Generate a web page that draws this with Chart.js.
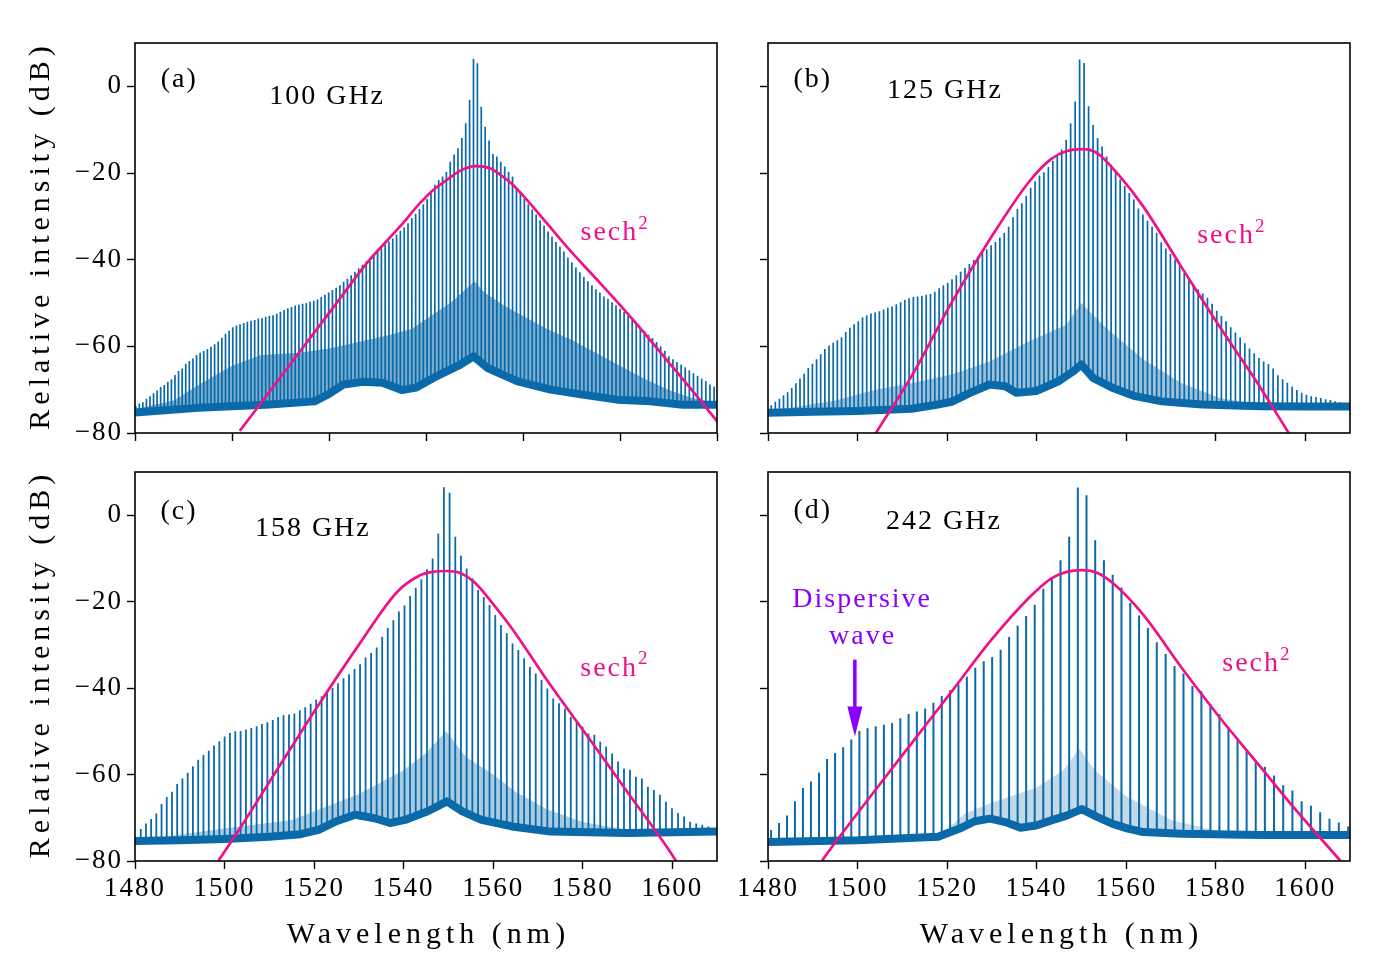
<!DOCTYPE html>
<html><head><meta charset="utf-8">
<script src="https://cdn.jsdelivr.net/npm/chart.js@4.4.1/dist/chart.umd.min.js"></script>
<style>
html,body{margin:0;padding:0;background:#fff;}
#wrap{position:relative;width:1383px;height:972px;overflow:hidden;background:#fff;}
canvas{position:absolute;}
</style></head>
<body><div id="wrap">
<canvas id="pa"></canvas><canvas id="pb"></canvas><canvas id="pc"></canvas><canvas id="pd"></canvas>
</div>
<script>
// ---------------- data ----------------
const C_NM_THZ = 299792.458;
const xTicksA = [1480, 1500, 1520, 1540, 1560, 1580, 1600];
const xTicksBCD = [1480, 1500, 1520, 1540, 1560, 1580, 1600];
const yTicks = [-80, -60, -40, -20, 0];
const xRangeA = [1480, 1600];
const xRangeBCD = [1480, 1610];
const yRange = [-80, 10];

// (a) 100 GHz comb: first line wavelength, spacing, line peaks (dB)
const combA_firstNm = 1480.16, combA_spacingGHz = 100;
const combA_peaksDb = [
 -73.8,-73.2,-72.9,-72.1,-71.5,-70.8,-70.2,-69.4,-68.9,-68.2,
 -67.6,-66.6,-65.7,-65.1,-64.0,-63.4,-62.8,-62.0,-61.5,-61.1,
 -60.6,-60.1,-59.5,-58.9,-58.0,-57.1,-56.4,-55.6,-55.2,-54.9,
 -54.6,-54.3,-54.1,-53.9,-53.6,-53.5,-53.2,-53.0,-52.8,-52.5,
 -52.0,-51.6,-51.2,-50.9,-50.6,-50.4,-50.2,-50.0,-49.7,-49.5,
 -49.2,-48.6,-48.1,-47.6,-47.0,-46.5,-45.9,-45.1,-44.4,-43.6,
 -42.8,-42.0,-41.2,-40.4,-39.6,-38.9,-38.2,-37.4,-36.5,-35.8,
 -35.1,-34.2,-33.3,-32.5,-31.6,-30.4,-29.4,-28.3,-27.2,-26.0,
 -24.5,-22.7,-21.6,-20.8,-19.7,-17.4,-15.8,-14.3,-11.9,-8.5,-3.1,
 6.3,5.3,
 -4.7,-9.3,-12.5,-15.6,-16.2,-17.4,-18.5,-19.7,-20.8,
 -23.5,-24.8,-26.0,-27.2,-28.4,-29.6,-30.9,-32.1,-33.5,-34.7,
 -35.9,-37.0,-38.1,-39.5,-40.6,-41.8,-42.9,-44.0,-45.0,-45.9,
 -46.8,-47.6,-48.5,-49.0,-49.8,-50.5,-51.3,-52.1,-53.0,-53.8,
 -54.8,-55.6,-56.4,-57.3,-58.1,-59.0,-60.0,-61.0,-62.3,-63.0,
 -63.6,-64.2,-64.8,-65.5,-66.2,-66.8,-67.5,-68.0,-68.8,-69.3];
const floorA_nm = [1480,1493,1507,1517,1520,1523,1527,1531,1535,1538,1541.5,1547,1549.8,1552.7,1558.9,1565.7,1572.6,1579.4,1586.3,1593,1600];
const floorA_db = [-75.3,-74.2,-73.5,-72.7,-71,-68.8,-68.2,-68.4,-70.1,-69.5,-67.3,-64.3,-62.3,-65,-68.1,-70,-71.2,-72.3,-72.7,-73.5,-73.5];
const ghostA_nm = [1480,1488,1493,1500,1506,1514,1520,1526,1532,1537,1541,1545,1548,1550,1552,1556,1560,1565,1570,1575,1580,1585,1590,1595,1600];
const ghostA_db = [-74.5,-72.5,-69,-64.5,-62,-61.5,-60.5,-59,-57.5,-56,-53,-50,-47,-45,-47.5,-50.5,-53,-56,-58.5,-61.5,-64.5,-67.5,-70,-72,-73];
const sechA_nm = [1501.6,1507.2,1514,1520.9,1527.8,1534.6,1538.8,1541.5,1544.3,1547,1550.1,1553.2,1555.3,1557.9,1560.8,1563.5,1569,1575.9,1582.7,1589.6,1596.5,1600.5];
const sechA_db = [-79.5,-71.3,-61.2,-51,-40.8,-32.4,-26.9,-23.9,-21.6,-19.5,-18.4,-18.9,-20.4,-22.7,-26.2,-29.7,-37,-45.4,-53.9,-63.1,-72.4,-78];

// (b) 125 GHz
const combB_firstNm = 1480.72, combB_spacingGHz = 125;
const combB_peaksDb = [
 -73.6,-72.8,-72.1,-71.3,-70.6,-69.6,-68.5,-67.4,-66.3,-65.0,
 -64.0,-63.0,-61.8,-60.6,-59.8,-59.2,-58.6,-57.9,-56.7,-55.7,
 -54.9,-54.2,-53.3,-52.8,-52.4,-52.2,-51.9,-51.5,-51.1,-50.8,
 -50.3,-49.8,-49.3,-48.9,-48.6,-48.5,-48.3,-48.1,-47.9,-47.4,
 -46.6,-45.9,-45.4,-44.5,-43.6,-42.8,-41.9,-41.0,-40.0,-39.3,
 -38.3,-37.6,-36.7,-35.9,-34.9,-33.8,-32.4,-30.2,-28.3,-27.0,
 -25.3,-23.4,-21.9,-20.6,-19.8,-18.6,-17.2,-15.9,-14.6,-12.3,
 -8.5,-3.5,6.2,5.4,-4.6,-8.9,-11.9,-13.9,-16.2,-18.1,
 -19.9,-21.5,-23.0,-24.6,-26.1,-28.2,-29.6,-31.0,-32.4,-33.8,
 -36.0,-37.4,-38.7,-40.0,-41.4,-42.9,-44.3,-45.7,-46.9,-47.8,
 -48.8,-50.2,-51.8,-53.0,-54.2,-55.6,-56.8,-58.0,-59.3,-60.5,
 -61.6,-62.7,-63.5,-64.1,-65.1,-66.7,-67.6,-68.4,-69.3,-70.1,
 -70.7,-71.2,-71.5,-71.7,-71.9,-72.2,-72.4,-72.7,-72.9,-73.2,-73.4];
const floorB_nm = [1480,1490,1500,1512,1517,1521,1525,1529.5,1533,1535.5,1540,1545,1548.3,1550,1552.6,1557,1562,1568,1577,1590,1600,1610];
const floorB_db = [-75.3,-75.1,-74.9,-74.4,-73.6,-72.8,-70.8,-68.8,-69.2,-70.7,-70.3,-68,-65.7,-64.2,-67.3,-69.6,-71.5,-72.7,-73.4,-73.8,-73.9,-73.9];
const ghostB_nm = [1480,1495,1504,1512,1521,1529.5,1538,1546.6,1550,1555.2,1563.8,1572.4,1581,1590,1610];
const ghostB_db = [-75,-72.5,-70,-68.5,-66.5,-63.5,-59,-55,-50,-55.5,-63,-68.5,-72,-73.5,-74];
const sechB_nm = [1504.1,1512.4,1520.9,1529.5,1538.1,1543.2,1546.6,1550.2,1553.5,1558.6,1563.8,1572.3,1580.9,1589.4,1596.3];
const sechB_db = [-80,-66.3,-50.1,-35.4,-22.3,-16.8,-15,-14.5,-15.4,-20.8,-27.7,-41.6,-55.5,-68.6,-80];

// (c) 158 GHz
const combC_firstNm = 1480.13, combC_spacingGHz = 158;
const combC_peaksDb = [
 -75.0,-72.6,-71.3,-70.3,-69.0,-66.8,-65.2,-64.0,-62.2,-60.9,
 -59.6,-58.1,-56.6,-55.5,-54.5,-53.3,-52.3,-51.2,-50.4,-50.0,
 -49.9,-49.6,-49.2,-48.8,-48.3,-47.9,-47.4,-46.7,-46.3,-46.1,
 -45.9,-45.1,-44.4,-43.6,-42.7,-41.9,-40.9,-40.0,-38.9,-37.7,
 -36.8,-35.6,-34.5,-32.9,-31.9,-30.6,-28.1,-26.1,-24.3,-22.3,
 -20.9,-18.7,-16.8,-14.8,-12.5,-10.0,-4.2,
 6.5,
 5.2,-5.0,-9.4,-12.3,-14.6,-17.3,-18.9,-20.8,-23.1,-25.4,
 -27.3,-29.7,-31.2,-33.1,-35.1,-36.6,-38.1,-40.1,-42.4,-43.5,
 -44.7,-46.6,-47.8,-48.9,-50.5,-50.8,-52.4,-53.5,-55.1,-57.0,
 -58.6,-58.9,-60.5,-60.9,-62.8,-63.6,-64.7,-66.3,-67.8,-68.9,
 -69.7,-70.9,-71.3,-71.6,-72.0,-72.4];
const floorC_nm = [1480,1490,1500,1510,1517,1521,1525,1529.2,1533.5,1537,1540.3,1545.4,1549.7,1553.1,1557.4,1564.2,1572.8,1590,1610];
const floorC_db = [-75.4,-75.2,-74.9,-74.4,-73.8,-72.8,-70.8,-69.3,-70.1,-71.2,-70.5,-68.5,-66.2,-68.5,-70.5,-72,-73.2,-73.5,-73.2];
const ghostC_nm = [1480,1500,1515,1525,1530,1540,1545,1549.5,1554,1560,1565,1572,1580,1590,1610];
const ghostC_db = [-75.3,-72.5,-70.5,-66.5,-64.5,-59,-55,-50,-56,-60,-64,-68,-71,-72.8,-73];
const sechC_nm = [1498.6,1504.4,1512.9,1521.5,1530,1538.6,1543.7,1546.5,1549.7,1552.5,1555.7,1560.8,1564.2,1572.8,1581.4,1589.9,1598.5,1600.9];
const sechC_db = [-80,-70.9,-57,-43.1,-30,-17.7,-13.9,-13.1,-12.9,-13.3,-15.4,-21.6,-26.2,-39.3,-51.6,-63.9,-76.3,-80];

// (d) 242 GHz
const combD_firstNm = 1480.69, combD_spacingGHz = 242;
const combD_peaksDb = [
 -72.8,-71.2,-69.5,-66.2,-63.1,-61.6,-59.5,-56.4,-55.0,-53.7,
 -51.9,-49.9,-49.3,-48.8,-48.5,-48.1,-47.0,-46.0,-45.4,-44.7,
 -43.4,-41.8,-40.5,-39.1,-37.4,-35.3,-33.8,-32.8,-31.1,-28.2,
 -25.6,-23.3,-20.7,-17.0,-14.4,-10.4,-5.0,
 6.4,
 4.6,-5.8,-10.4,-13.8,-16.7,-20.3,-23.2,-26.1,-29.4,-32.1,
 -34.9,-36.6,-39.5,-40.7,-43.7,-46.0,-49.0,-51.6,-54.5,-57.2,
 -58.2,-60.2,-62.5,-63.7,-66.2,-67.2,-68.7,-70.2,-71.1,-72.0];
const floorD_nm = [1480,1500,1518,1522.8,1526.2,1529.6,1533,1536.4,1539.9,1543.3,1546.7,1550.1,1553.5,1557,1560.4,1563.8,1572.4,1590,1610];
const floorD_db = [-75.6,-75.2,-74.4,-72.5,-70.8,-70.2,-71,-72.3,-71.8,-70.6,-69.5,-68,-69.8,-71.4,-72.5,-73.3,-73.7,-74,-74];
const ghostD_nm = [1480,1518,1524,1530,1540,1546,1549.5,1553,1560,1570,1580,1610];
const ghostD_db = [-75.6,-74.4,-69,-66.5,-63,-59,-54,-59,-65,-70.5,-73,-74];
const sechD_nm = [1492,1495.4,1503.9,1512.5,1521.1,1529.6,1538.2,1543.3,1546.7,1550.1,1553.5,1557,1563.8,1572.4,1580.9,1589.5,1598,1607.9];
const sechD_db = [-80,-75.2,-63.7,-52.2,-40.7,-29.2,-19.2,-14.6,-13.1,-12.7,-13.3,-15.7,-23,-35.3,-46.8,-57.6,-68.3,-80];

// annotations: [text, wavelength, dB]
const labelsA = [['(a)',1488.9,1.5],['100 GHz',1519.4,-2.4]]; const sechLabelA = [1579,-33.8];
const labelsB = [['(b)',1489.8,1.5],['125 GHz',1519.3,-1.0]]; const sechLabelB = [1583.6,-34.5];
const labelsC = [['(c)',1489.6,0.9],['158 GHz',1519.5,-3.2]]; const sechLabelC = [1587.2,-35.4];
const labelsD = [['(d)',1489.8,1.0],['242 GHz',1519.1,-1.6]]; const sechLabelD = [1589.2,-34.4];
const dispersiveText = [['Dispersive',1500.8,-19.5],['wave',1500.9,-28]];
const dispersiveArrow = [1499.4,-33.4,-51.2];

// ---------------- helpers ----------------
const BLUE = '#0a69a8', PINK = '#ee1289', PURPLE = '#8b00ff';
const SERIF = '"Liberation Serif", "Times New Roman", serif';
const pairs = (xs, ys) => xs.map((x, i) => ({x: x, y: ys[i]}));
function combPoints(firstNm, ghz, peaks) {
  const f0 = C_NM_THZ / firstNm, out = [];
  peaks.forEach((p, i) => {
    const lam = C_NM_THZ / (f0 - i * ghz / 1000);
    out.push({x: lam, y: -80}, {x: lam, y: p}, {x: lam, y: null});
  });
  return out;
}
function spacedText(ctx, s, x, y, ls, align) {
  ctx.letterSpacing = ls + 'px';
  const w = ctx.measureText(s).width - ls;
  let sx = x;
  if (align === 'center') sx = x - w / 2;
  ctx.textAlign = 'left';
  ctx.fillText(s, sx, y);
}

function makePanel(cfg) {
  const cv = document.getElementById(cfg.id);
  cv.width = cfg.w; cv.height = cfg.h;
  cv.style.left = cfg.left + 'px'; cv.style.top = cfg.top + 'px';
  cv.style.width = cfg.w + 'px'; cv.style.height = cfg.h + 'px';
  const [L, T, R, B] = cfg.area;
  const deco = {
    id: 'deco' + cfg.id,
    beforeDraw(chart) { chart.ctx.letterSpacing = '2px'; },
    afterDatasetsDraw(chart) {
      const ctx = chart.ctx, a = chart.chartArea;
      ctx.save(); ctx.strokeStyle = '#000'; ctx.lineWidth = 1.6;
      ctx.strokeRect(a.left, a.top, a.right - a.left, a.bottom - a.top);
      ctx.restore();
    },
    afterDraw(chart) {
      const ctx = chart.ctx, xs = chart.scales.x, ys = chart.scales.y;
      ctx.save();
      ctx.textBaseline = 'middle';
      ctx.fillStyle = '#000';
      ctx.font = '28px ' + SERIF;
      cfg.labels.forEach(([s, lx, ly]) => spacedText(ctx, s, xs.getPixelForValue(lx), ys.getPixelForValue(ly), 2, 'center'));
      // sech^2 label
      ctx.fillStyle = PINK;
      const sx = xs.getPixelForValue(cfg.sechLabel[0]), sy = ys.getPixelForValue(cfg.sechLabel[1]);
      ctx.font = '28px ' + SERIF; ctx.letterSpacing = '2px';
      const w1 = ctx.measureText('sech').width;
      ctx.font = '19px ' + SERIF;
      const w2 = ctx.measureText('2').width;
      const x0 = sx - (w1 + w2) / 2;
      ctx.font = '28px ' + SERIF; ctx.textAlign = 'left';
      ctx.fillText('sech', x0, sy);
      ctx.font = '19px ' + SERIF;
      ctx.fillText('2', x0 + w1, sy - 9);
      if (cfg.dispersive) {
        ctx.fillStyle = PURPLE; ctx.font = '28px ' + SERIF;
        dispersiveText.forEach(([s, lx, ly]) => spacedText(ctx, s, xs.getPixelForValue(lx), ys.getPixelForValue(ly), 2, 'center'));
        const ax = xs.getPixelForValue(dispersiveArrow[0]);
        const y1 = ys.getPixelForValue(dispersiveArrow[1]), y2 = ys.getPixelForValue(dispersiveArrow[2]);
        ctx.strokeStyle = PURPLE; ctx.lineWidth = 3.5;
        ctx.beginPath(); ctx.moveTo(ax, y1); ctx.lineTo(ax, y2 - 26); ctx.stroke();
        ctx.beginPath(); ctx.moveTo(ax - 7.5, y2 - 30); ctx.lineTo(ax + 7.5, y2 - 30); ctx.lineTo(ax, y2); ctx.closePath(); ctx.fill();
      }
      ctx.fillStyle = '#000';
      ctx.font = '30px ' + SERIF;
      if (cfg.yTitle) {
        ctx.save();
        ctx.translate(41 - cfg.left, (T + B) / 2 - cfg.top);
        ctx.rotate(-Math.PI / 2);
        spacedText(ctx, 'Relative intensity (dB)', 0, 0, 5, 'center');
        ctx.restore();
      }
      if (cfg.xTitle) {
        spacedText(ctx, 'Wavelength (nm)', (L + R) / 2 - cfg.left, 935 - cfg.top, 5, 'center');
      }
      ctx.restore();
    }
  };
  const tickFont = {family: SERIF, size: 27};
  return new Chart(cv, {
    type: 'line',
    data: {
      datasets: [
        {label: 'pedestal', data: pairs(cfg.ghostNm, cfg.ghostDb), borderWidth: 0, pointRadius: 0,
         fill: 'start', backgroundColor: cfg.ghostColor, tension: 0, order: 4},
        {label: 'comb', data: combPoints(cfg.firstNm, cfg.ghz, cfg.peaks), borderColor: BLUE,
         borderWidth: cfg.lineW, pointRadius: 0, fill: false, spanGaps: false, tension: 0, order: 3},
        {label: 'floor', data: pairs(cfg.floorNm, cfg.floorDb), borderColor: BLUE, borderWidth: 8,
         borderJoinStyle: 'round', pointRadius: 0, fill: 'start', backgroundColor: '#ffffff', tension: 0, order: 2},
        {label: 'sech2', data: pairs(cfg.sechNm, cfg.sechDb), borderColor: PINK, borderWidth: 2.7,
         pointRadius: 0, fill: false, cubicInterpolationMode: 'monotone', order: 0}
      ]
    },
    options: {
      responsive: false, animation: false, events: [],
      layout: {padding: {left: 0, top: T - cfg.top, right: cfg.left + cfg.w - R, bottom: 0}},
      plugins: {legend: {display: false}, tooltip: {enabled: false}},
      scales: {
        x: {type: 'linear', min: cfg.xRange[0], max: cfg.xRange[1],
            afterBuildTicks: s => { s.ticks = cfg.xTicks.map(v => ({value: v})); },
            afterFit: s => { s.height = cfg.top + cfg.h - B; },
            ticks: {font: tickFont, color: '#000', padding: 4, maxRotation: 0, autoSkip: false,
                    callback: v => cfg.showX ? String(v) : ''},
            grid: {display: true, drawOnChartArea: false, drawTicks: true, tickLength: 8, tickWidth: 1.4, tickColor: '#000'},
            border: {display: false}},
        y: {type: 'linear', min: yRange[0], max: yRange[1],
            afterBuildTicks: s => { s.ticks = yTicks.map(v => ({value: v})); },
            afterFit: s => { s.width = L - cfg.left; },
            ticks: {font: tickFont, color: '#000', padding: 4,
                    callback: v => cfg.showY ? (v < 0 ? '\u2212' + Math.abs(v) : String(v)) : ''},
            grid: {display: true, drawOnChartArea: false, drawTicks: true, tickLength: 8, tickWidth: 1.4, tickColor: '#000'},
            border: {display: false}}
      }
    },
    plugins: [deco]
  });
}

makePanel({id: 'pa', left: 0, top: 0, w: 745, h: 455, area: [135, 43, 717, 433], xRange: xRangeA, xTicks: xTicksA,
  showX: false, showY: true, yTitle: true, xTitle: false, firstNm: combA_firstNm, ghz: combA_spacingGHz, peaks: combA_peaksDb,
  floorNm: floorA_nm, floorDb: floorA_db, ghostNm: ghostA_nm, ghostDb: ghostA_db, ghostColor: 'rgba(10,105,168,0.55)',
  sechNm: sechA_nm, sechDb: sechA_db, labels: labelsA, sechLabel: sechLabelA, lineW: 1.7});
makePanel({id: 'pb', left: 700, top: 0, w: 683, h: 455, area: [768, 43, 1350, 433], xRange: xRangeBCD, xTicks: xTicksBCD,
  showX: false, showY: false, yTitle: false, xTitle: false, firstNm: combB_firstNm, ghz: combB_spacingGHz, peaks: combB_peaksDb,
  floorNm: floorB_nm, floorDb: floorB_db, ghostNm: ghostB_nm, ghostDb: ghostB_db, ghostColor: 'rgba(10,105,168,0.4)',
  sechNm: sechB_nm, sechDb: sechB_db, labels: labelsB, sechLabel: sechLabelB, lineW: 1.7});
makePanel({id: 'pc', left: 0, top: 440, w: 745, h: 532, area: [135, 472, 717, 861], xRange: xRangeBCD, xTicks: xTicksBCD,
  showX: true, showY: true, yTitle: true, xTitle: true, firstNm: combC_firstNm, ghz: combC_spacingGHz, peaks: combC_peaksDb,
  floorNm: floorC_nm, floorDb: floorC_db, ghostNm: ghostC_nm, ghostDb: ghostC_db, ghostColor: 'rgba(10,105,168,0.35)',
  sechNm: sechC_nm, sechDb: sechC_db, labels: labelsC, sechLabel: sechLabelC, lineW: 1.8});
makePanel({id: 'pd', left: 700, top: 440, w: 683, h: 532, area: [768, 472, 1350, 861], xRange: xRangeBCD, xTicks: xTicksBCD,
  showX: true, showY: false, yTitle: false, xTitle: true, firstNm: combD_firstNm, ghz: combD_spacingGHz, peaks: combD_peaksDb,
  floorNm: floorD_nm, floorDb: floorD_db, ghostNm: ghostD_nm, ghostDb: ghostD_db, ghostColor: 'rgba(10,105,168,0.25)',
  sechNm: sechD_nm, sechDb: sechD_db, labels: labelsD, sechLabel: sechLabelD, lineW: 2.0, dispersive: true});
</script>
</body></html>
